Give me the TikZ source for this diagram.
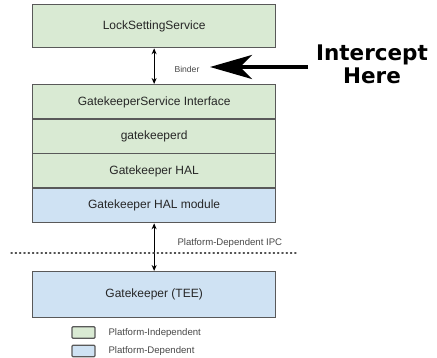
\documentclass[tikz,border=0pt]{standalone}
\usepackage{fontspec}
\setmainfont{Liberation Sans}
\newfontfamily\callout{DejaVu Sans}
\usetikzlibrary{arrows.meta}
\definecolor{indep}{HTML}{D9EAD3}
\definecolor{dep}{HTML}{CFE2F3}
\definecolor{edge}{HTML}{595959}
\definecolor{ink}{HTML}{262626}
\begin{document}
\begin{tikzpicture}[x=1pt,y=-1pt,
  layer/.style={draw=edge,line width=1.3pt,minimum width=243pt,inner sep=0pt,
    font=\fontsize{12}{14}\selectfont,text=ink,anchor=north west},
  greenbox/.style={layer,fill=indep},
  bluebox/.style={layer,fill=dep},
  swatch/.style={draw=edge,line width=1.2pt,rounded corners=1pt,minimum width=23pt,
    minimum height=11.5pt,inner sep=0pt},
  small/.style={font=\fontsize{9.6}{11}\selectfont,text=ink!85},
  link/.style={line width=1pt,{Stealth[length=6pt,width=5pt]}-{Stealth[length=6pt,width=5pt]}}
]
\useasboundingbox (0,0) rectangle (437,358);

% software stack
\node[greenbox,minimum height=43pt] (lss) at (32,4) {LockSettingService};
\node[greenbox,minimum height=34.5pt] (gsi) at (32,84) {GatekeeperService Interface};
\node[greenbox,minimum height=34.5pt] (gkd) at (32,118.5) {gatekeeperd};
\node[greenbox,minimum height=34.5pt] (hal) at (32,153) {Gatekeeper HAL};
\node[bluebox,minimum height=34.5pt] (halm) at (32,187.5) {Gatekeeper HAL module};
\node[bluebox,minimum height=46pt] (tee) at (32,271) {Gatekeeper (TEE)};

% connectors between layers
\draw[link] (lss.south) -- (gsi.north);
\node[small,font=\fontsize{8.6}{10}\selectfont,anchor=west] (binder) at (171,69) {Binder};
\draw[link] (halm.south) -- (tee.north);
\node[small,anchor=west] (ipc) at (174,243) {Platform-Dependent IPC};

% boundary between normal world and TEE
\coordinate (sepL) at (11,253);
\coordinate (sepR) at (297,253);
\draw[line width=1.3pt,ink!80,dash pattern=on 1.2pt off 3.1pt,line cap=round] (sepL) -- (sepR);

% callout
\node[font=\callout\bfseries\fontsize{21.5}{23}\selectfont,align=center,text=black,inner sep=0pt]
  (callout) at (372,64) {Intercept\\Here};
\coordinate (tail) at (308,67);
\coordinate (tip) at (210,67);
\draw[line width=4pt,-{Stealth[length=42pt,width=24pt,inset=12pt]}] (tail) -- (tip);

% legend
\node[swatch,fill=indep] (sw1) at (83.5,332.5) {};
\node[swatch,fill=dep] (sw2) at (83.5,351) {};
\node[small,anchor=west] (lg1) at (105,333) {Platform-Independent};
\node[small,anchor=west] (lg2) at (105,351.5) {Platform-Dependent};
\end{tikzpicture}
\end{document}
